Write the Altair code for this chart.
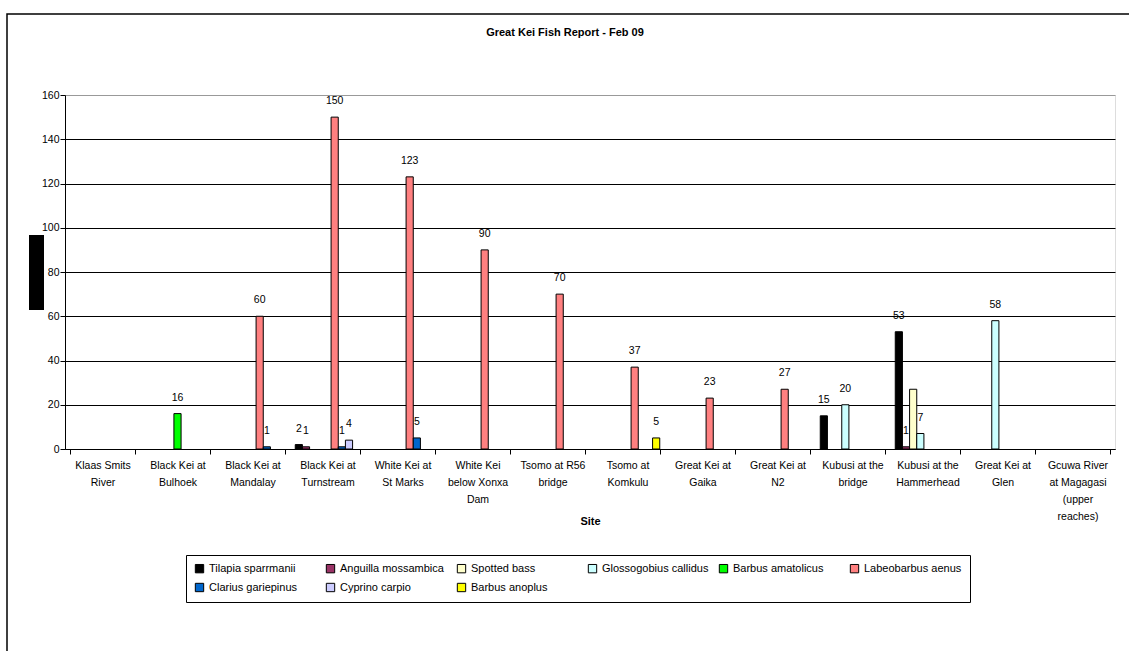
import json
import altair as alt
import pandas as pd

# Sampling sites, each given as the lines of its axis label
site_lines = [
    ["Klaas Smits", "River"],
    ["Black Kei at", "Bulhoek"],
    ["Black Kei at", "Mandalay"],
    ["Black Kei at", "Turnstream"],
    ["White Kei at", "St Marks"],
    ["White Kei", "below Xonxa", "Dam"],
    ["Tsomo at R56", "bridge"],
    ["Tsomo at", "Komkulu"],
    ["Great Kei at", "Gaika"],
    ["Great Kei at", "N2"],
    ["Kubusi at the", "bridge"],
    ["Kubusi at the", "Hammerhead"],
    ["Great Kei at", "Glen"],
    ["Gcuwa River", "at Magagasi", "(upper", "reaches)"],
]
sites = [" ".join(lines) for lines in site_lines]

species = [
    "Tilapia sparrmanii",
    "Anguilla mossambica",
    "Spotted bass",
    "Glossogobius callidus",
    "Barbus amatolicus",
    "Labeobarbus aenus",
    "Clarius gariepinus",
    "Cyprino carpio",
    "Barbus anoplus",
]
species_colors = [
    "#000000", "#993366", "#FFFFCC", "#CCFFFF", "#00FF00",
    "#FF8080", "#0066CC", "#CCCCFF", "#FFFF00",
]

# Fish counts per site (None = not recorded)
tilapia_sparrmanii = [None, None, None, 2, None, None, None, None, None, None, 15, 53, None, None]
anguilla_mossambica = [None, None, None, 1, None, None, None, None, None, None, None, 1, None, None]
spotted_bass = [None, None, None, None, None, None, None, None, None, None, None, 27, None, None]
glossogobius_callidus = [None, None, None, None, None, None, None, None, None, None, 20, 7, 58, None]
barbus_amatolicus = [None, 16, None, None, None, None, None, None, None, None, None, None, None, None]
labeobarbus_aenus = [None, None, 60, 150, 123, 90, 70, 37, 23, 27, None, None, None, None]
clarius_gariepinus = [None, None, 1, 1, 5, None, None, None, None, None, None, None, None, None]
cyprino_carpio = [None, None, None, 4, None, None, None, None, None, None, None, None, None, None]
barbus_anoplus = [None, None, None, None, None, None, None, 5, None, None, None, None, None, None]

counts = [
    tilapia_sparrmanii, anguilla_mossambica, spotted_bass, glossogobius_callidus,
    barbus_amatolicus, labeobarbus_aenus, clarius_gariepinus, cyprino_carpio,
    barbus_anoplus,
]

# Value labels left unprinted on the chart
unlabelled = {("Kubusi at the Hammerhead", "Spotted bass")}

rows = []
for sp, series in zip(species, counts):
    for site, v in zip(sites, series):
        if v is not None:
            rows.append({"site": site, "species": sp, "count": v,
                         "labelled": (site, sp) not in unlabelled})
df = pd.DataFrame(rows)

FONT = "Liberation Sans"
label_map = json.dumps(dict(zip(sites, site_lines)))

x_enc = alt.X(
    "site:N",
    sort=sites,
    scale=alt.Scale(domain=sites, paddingInner=0.14, paddingOuter=0.07),
    axis=alt.Axis(
        title="Site",
        titleFont=FONT, titleFontSize=11, titleFontWeight="bold",
        titleColor="black", titleBaseline="middle", titleY=72,
        labelAngle=0, labelFont=FONT, labelFontSize=10.5, labelColor="black",
        labelExpr=f"{label_map}[datum.value]",
        labelLineHeight=17, labelPadding=6, labelBaseline="top",
        tickBand="extent", tickSize=5, tickColor="black",
        domainColor="black", grid=False,
    ),
)
xoff_enc = alt.XOffset("species:N", sort=species,
                       scale=alt.Scale(domain=species, paddingInner=0, paddingOuter=0))
y_enc = alt.Y(
    "count:Q",
    scale=alt.Scale(domain=[0, 160], nice=False),
    axis=alt.Axis(
        title=None,
        values=list(range(0, 161, 20)),
        labelFont=FONT, labelFontSize=10.5, labelColor="black", labelPadding=1,
        tickSize=5, tickColor="black", domainColor="black",
        grid=True,
        gridColor={"condition": {"test": "datum.value == 160", "value": "#999999"},
                   "value": "black"},
    ),
)

bars = alt.Chart(df).mark_bar(stroke="black", strokeWidth=1).encode(
    x=x_enc,
    xOffset=xoff_enc,
    y=y_enc,
    color=alt.Color(
        "species:N",
        sort=species,
        scale=alt.Scale(domain=species, range=species_colors),
        legend=alt.Legend(
            title=None, orient="none", legendX=121, legendY=460,
            direction="horizontal", columns=6, gridAlign="all",
            symbolType="square", symbolSize=70, symbolStrokeColor="black",
            symbolStrokeWidth=1, symbolOpacity=1,
            labelFont=FONT, labelFontSize=11, labelColor="black",
            columnPadding=8, rowPadding=6, padding=8,
            strokeColor="black",
        ),
    ),
)

labels = alt.Chart(df).transform_filter("datum.labelled").mark_text(
    font=FONT, fontSize=10.5, color="black", baseline="bottom", dy=-11
).encode(
    x=alt.X("site:N", sort=sites),
    xOffset=alt.XOffset("species:N", sort=species),
    y="count:Q",
    text="count:Q",
)

frame_data = alt.Data(values=[{"k": 1}])
# Outer chart frame
frame = alt.Chart(frame_data).mark_rect(fill=None, stroke="black", strokeWidth=1.5).encode(
    x=alt.value(-58), x2=alt.value(1200), y=alt.value(-81), y2=alt.value(700)
)
# Block standing in for the vertical axis caption
caption_block = alt.Chart(frame_data).mark_rect(color="black").encode(
    x=alt.value(-36), x2=alt.value(-21), y=alt.value(140), y2=alt.value(215)
)

chart = alt.layer(frame, bars, labels, caption_block).properties(
    width=1050,
    height=354,
    title=alt.TitleParams(
        "Great Kei Fish Report - Feb 09",
        font=FONT, fontSize=11, fontWeight="bold", color="black",
        anchor="middle", frame="group", offset=-25, dx=-25,
    ),
    autosize=alt.AutoSizeParams(type="none"),
    padding={"left": 65, "top": 95, "right": 14, "bottom": 202},
).configure_view(
    stroke="#808080", strokeWidth=1
).configure(background="white")

chart.save("out.html", embed_options={"renderer": "svg", "actions": False})
